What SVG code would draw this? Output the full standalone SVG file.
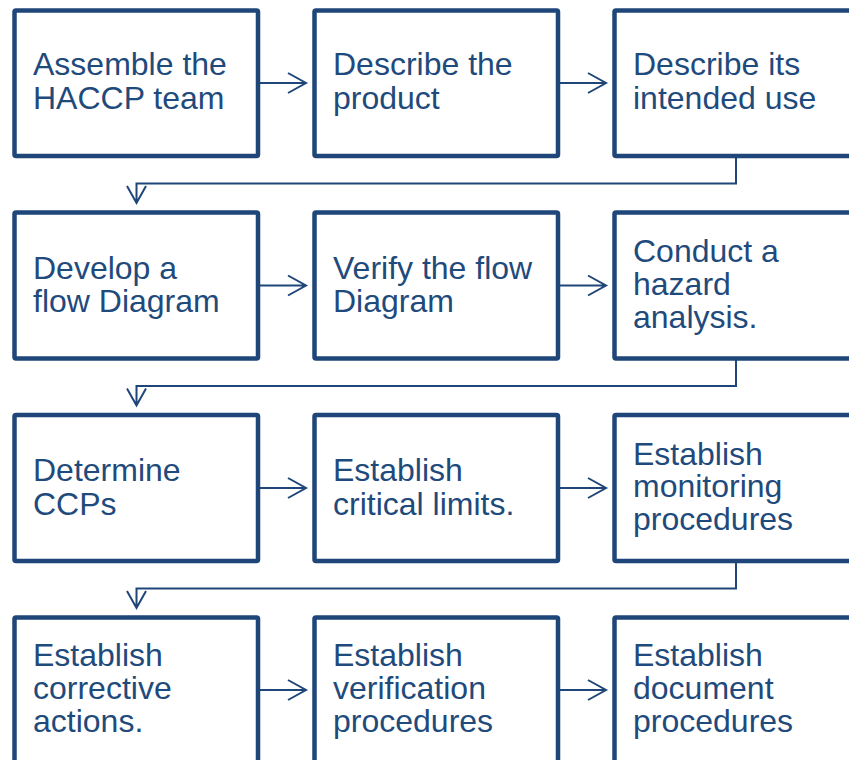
<svg xmlns="http://www.w3.org/2000/svg" width="849" height="760" viewBox="0 0 849 760">
<style>
.box{fill:#fff;stroke:#1f4678;stroke-width:4.5;}
.t{font-family:"Liberation Sans",Arial,sans-serif;font-size:32px;fill:#1f4a7c;}
.c{fill:none;stroke:#1f4678;stroke-width:2;}
</style>
<rect width="849" height="760" fill="#fff"/>
<g id="connectors">
<path class="c" d="M258 83H306M288 73L306 83L288 93"/>
<path class="c" d="M558 83H606M588 73L606 83L588 93"/>
<path class="c" d="M736 156V183.5H136.5V203M127 186L136.5 203L146 186"/>
<path class="c" d="M258 285.5H306M288 275.5L306 285.5L288 295.5"/>
<path class="c" d="M558 285.5H606M588 275.5L606 285.5L588 295.5"/>
<path class="c" d="M736 358.5V386H136.5V405.5M127 388.5L136.5 405.5L146 388.5"/>
<path class="c" d="M258 488H306M288 478L306 488L288 498"/>
<path class="c" d="M558 488H606M588 478L606 488L588 498"/>
<path class="c" d="M736 561V588.5H136.5V608M127 591L136.5 608L146 591"/>
<path class="c" d="M258 690H306M288 680L306 690L288 700"/>
<path class="c" d="M558 690H606M588 680L606 690L588 700"/>
</g>
<g id="n1"><rect class="box" x="14.5" y="10.5" width="243.5" height="145.5" rx="1.5"/><text class="t" x="33" y="75">Assemble the</text><text class="t" x="33" y="109">HACCP team</text></g>
<g id="n2"><rect class="box" x="314.5" y="10.5" width="243.5" height="145.5" rx="1.5"/><text class="t" x="333" y="75">Describe the</text><text class="t" x="333" y="109">product</text></g>
<g id="n3"><rect class="box" x="614.5" y="10.5" width="300" height="145.5" rx="1.5"/><text class="t" x="633" y="75">Describe its</text><text class="t" x="633" y="109">intended use</text></g>
<g id="n4"><rect class="box" x="14.5" y="212.5" width="243.5" height="146" rx="1.5"/><text class="t" x="33" y="279">Develop a</text><text class="t" x="33" y="312">flow Diagram</text></g>
<g id="n5"><rect class="box" x="314.5" y="212.5" width="243.5" height="146" rx="1.5"/><text class="t" x="333" y="279">Verify the flow</text><text class="t" x="333" y="312">Diagram</text></g>
<g id="n6"><rect class="box" x="614.5" y="212.5" width="300" height="146" rx="1.5"/><text class="t" x="633" y="262">Conduct a</text><text class="t" x="633" y="295">hazard</text><text class="t" x="633" y="328">analysis.</text></g>
<g id="n7"><rect class="box" x="14.5" y="415" width="243.5" height="146" rx="1.5"/><text class="t" x="33" y="481">Determine</text><text class="t" x="33" y="514.5">CCPs</text></g>
<g id="n8"><rect class="box" x="314.5" y="415" width="243.5" height="146" rx="1.5"/><text class="t" x="333" y="481">Establish</text><text class="t" x="333" y="514.5">critical limits.</text></g>
<g id="n9"><rect class="box" x="614.5" y="415" width="300" height="146" rx="1.5"/><text class="t" x="633" y="464.5">Establish</text><text class="t" x="633" y="497">monitoring</text><text class="t" x="633" y="529.5">procedures</text></g>
<g id="n10"><rect class="box" x="14.5" y="617.5" width="243.5" height="200" rx="1.5"/><text class="t" x="33" y="666">Establish</text><text class="t" x="33" y="699">corrective</text><text class="t" x="33" y="732">actions.</text></g>
<g id="n11"><rect class="box" x="314.5" y="617.5" width="243.5" height="200" rx="1.5"/><text class="t" x="333" y="666">Establish</text><text class="t" x="333" y="699">verification</text><text class="t" x="333" y="732">procedures</text></g>
<g id="n12"><rect class="box" x="614.5" y="617.5" width="300" height="200" rx="1.5"/><text class="t" x="633" y="666">Establish</text><text class="t" x="633" y="699">document</text><text class="t" x="633" y="732">procedures</text></g>
</svg>
